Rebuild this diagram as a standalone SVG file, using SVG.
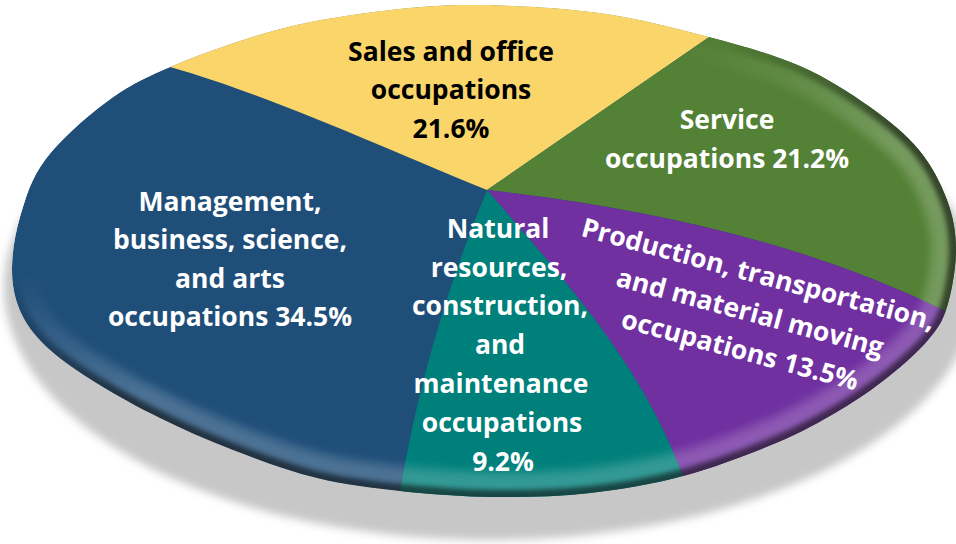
<svg xmlns="http://www.w3.org/2000/svg" width="956" height="544" viewBox="0 0 956 544">
<style>
.lbl{font-family:"Open Sans","Liberation Sans",sans-serif;font-weight:700;font-size:26.5px;text-anchor:middle}
.w{fill:#ffffff}
.k{fill:#000000}
</style>
<defs>
<path id="outline" d="M482,5 C517,5.5 562.2,7.7 600,13 C637.8,18.3 675.7,28.2 709,37 C742.3,45.8 773.2,54.3 800,66 C826.8,77.7 850.2,93 870,107 C889.8,121 906.2,134.5 919,150 C931.8,165.5 940.8,183.3 947,200 C953.2,216.7 956,232.2 956,250 C956,267.8 951.7,292 947,307 C942.3,322 937.8,328.3 928,340 C918.2,351.7 902.7,365.3 888,377 C873.3,388.7 858.7,399 840,410 C821.3,421 802.2,432 776,443 C749.8,454 714,467.7 683,476 C652,484.3 621.3,489.5 590,493 C558.7,496.5 526.7,497.3 495,497 C463.3,496.7 429.7,494.2 400,491 C370.3,487.8 344.8,484.8 317,478 C289.2,471.2 259.2,460 233,450 C206.8,440 182.5,429 160,418 C137.5,407 116.3,395.3 98,384 C79.7,372.7 62.7,361.5 50,350 C37.3,338.5 28.3,328 22,315 C15.7,302 12.3,288.3 12,272 C11.7,255.7 14.5,235.7 20,217 C25.5,198.3 30.8,179 45,160 C59.2,141 84.2,118.5 105,103 C125.8,87.5 140.8,79.3 170,67 C199.2,54.7 243.3,38.5 280,29 C316.7,19.5 356.3,14 390,10 C423.7,6 447,4.5 482,5 Z"/>
<clipPath id="pieClip"><use href="#outline"/></clipPath>
<filter id="shadowBlur" x="-10%" y="-10%" width="120%" height="120%"><feGaussianBlur stdDeviation="4"/></filter>
<filter id="softWide" x="-10%" y="-10%" width="120%" height="120%"><feGaussianBlur stdDeviation="5"/></filter>
<filter id="softNarrow" x="-10%" y="-10%" width="120%" height="120%"><feGaussianBlur stdDeviation="2.5"/></filter>
<linearGradient id="rimGrad" gradientUnits="userSpaceOnUse" x1="84" y1="251" x2="134" y2="398">
<stop offset="0" stop-color="#000"/>
<stop offset="1" stop-color="#fff"/>
</linearGradient>
<mask id="rimMask" maskUnits="userSpaceOnUse" x="0" y="0" width="956" height="544">
<rect x="0" y="0" width="956" height="544" fill="url(#rimGrad)"/>
</mask>
</defs>

<g id="shadow">
<ellipse cx="490" cy="287" rx="486" ry="253" fill="#c7c7c7" filter="url(#shadowBlur)"/>
</g>

<g id="pie" clip-path="url(#pieClip)">
<g id="slice-management">
<use href="#outline" fill="#1f4e79"/>
</g>
<g id="slice-sales">
<path d="M487,190 C400,155 270,95 170,67 L80,42 L80,-20 L760,-20 L760,2 Z" fill="#f9d56a"/>
</g>
<g id="slice-service">
<path d="M487,190 L760,2 L760,-20 L1000,-20 L1000,338 L943,310 Q760,220 487,190 Z" fill="#538135"/>
</g>
<g id="slice-production">
<path d="M487,190 Q760,220 943,310 L1000,338 L1000,560 L714,560 L699,520 L683,476 C640,360 560,275 487,190 Z" fill="#7030a0"/>
</g>
<g id="slice-natural">
<path d="M487,190 C560,275 640,360 683,476 L699,520 L714,560 L386,560 L393,535 L400,492 Q425,340 487,190 Z" fill="#00807b"/>
</g>
<g id="rim" mask="url(#rimMask)">
<use href="#outline" fill="none" stroke="#ffffff" stroke-opacity="0.2" stroke-width="50" filter="url(#softWide)"/>
<use href="#outline" fill="none" stroke="#000000" stroke-opacity="0.55" stroke-width="14" filter="url(#softNarrow)"/>
</g>
</g>

<g id="labels">
<g id="label-sales">
<text class="lbl k" x="451" y="61">Sales and office</text>
<text class="lbl k" x="451" y="99">occupations</text>
<text class="lbl k" x="451" y="138">21.6%</text>
</g>
<g id="label-service">
<text class="lbl w" x="727" y="129">Service</text>
<text class="lbl w" x="727" y="168">occupations 21.2%</text>
</g>
<g id="label-management">
<text class="lbl w" x="230" y="211">Management,</text>
<text class="lbl w" x="230" y="249">business, science,</text>
<text class="lbl w" x="230" y="288">and arts</text>
<text class="lbl w" x="230" y="326">occupations 34.5%</text>
</g>
<g id="label-natural">
<text class="lbl w" x="498" y="238">Natural</text>
<text class="lbl w" x="499" y="277">resources,</text>
<text class="lbl w" x="500" y="315">construction,</text>
<text class="lbl w" x="500" y="354">and</text>
<text class="lbl w" x="501" y="393">maintenance</text>
<text class="lbl w" x="502" y="432">occupations</text>
<text class="lbl w" x="503" y="471">9.2%</text>
</g>
<g id="label-production" transform="translate(756,283) rotate(15)">
<text class="lbl w" x="0" y="0">Production, transportation,</text>
<text class="lbl w" x="2" y="39">and material moving</text>
<text class="lbl w" x="2" y="78">occupations 13.5%</text>
</g>
</g>
</svg>
